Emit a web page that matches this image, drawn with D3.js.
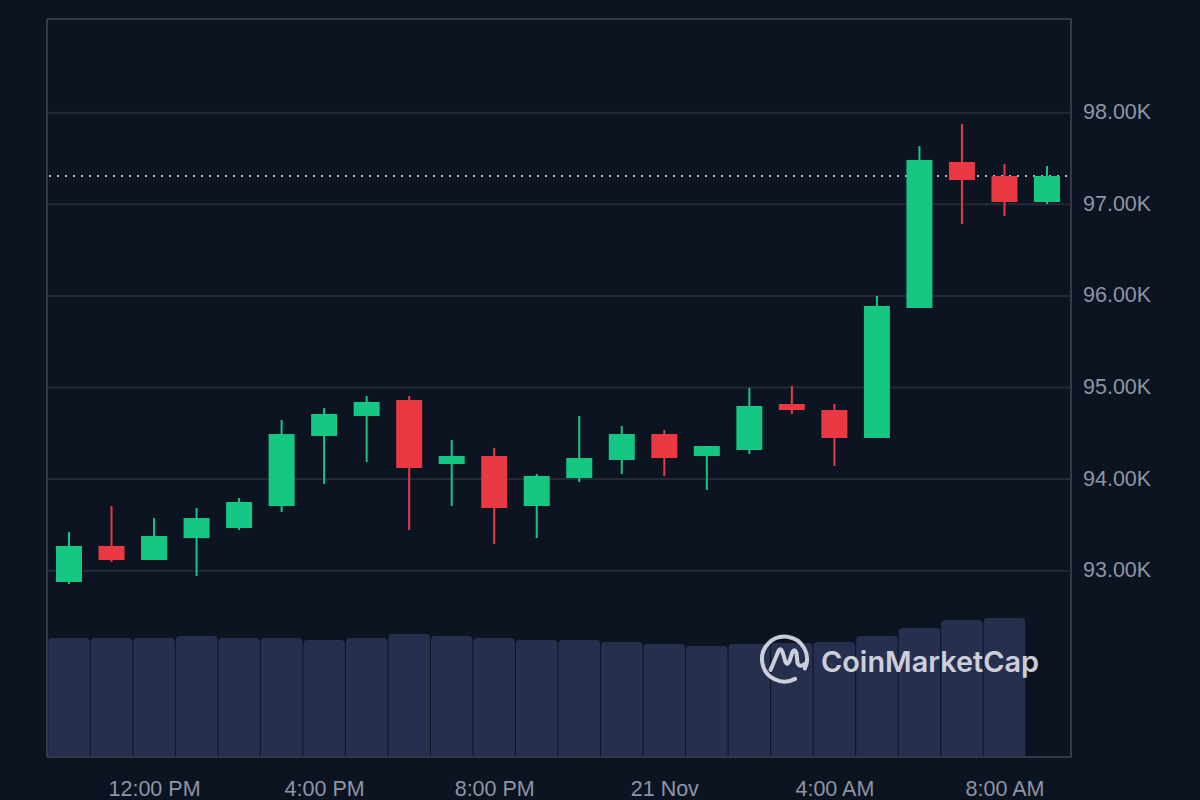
<!DOCTYPE html>
<html>
<head>
<meta charset="utf-8">
<script src="https://cdn.jsdelivr.net/npm/d3@7"></script>
<style>
  html, body { margin: 0; padding: 0; background: #0d1421; }
  svg { display: block; }
</style>
</head>
<body>
<svg id="chart" width="1200" height="800"></svg>
<script>
// ---- Data ----
const times = [
  "2024-11-20T10:00", "2024-11-20T11:00", "2024-11-20T12:00", "2024-11-20T13:00",
  "2024-11-20T14:00", "2024-11-20T15:00", "2024-11-20T16:00", "2024-11-20T17:00",
  "2024-11-20T18:00", "2024-11-20T19:00", "2024-11-20T20:00", "2024-11-20T21:00",
  "2024-11-20T22:00", "2024-11-20T23:00", "2024-11-21T00:00", "2024-11-21T01:00",
  "2024-11-21T02:00", "2024-11-21T03:00", "2024-11-21T04:00", "2024-11-21T05:00",
  "2024-11-21T06:00", "2024-11-21T07:00", "2024-11-21T08:00", "2024-11-21T09:00"
];
const open  = [92877, 93270, 93117, 93356, 93466, 93706, 94470, 94689, 94863, 94165, 94252, 93706,
               94012, 94209, 94492, 94252, 94318, 94820, 94754, 94449, 95868, 97462, 97309, 97025];
const high  = [93423, 93706, 93575, 93685, 93794, 94645, 94776, 94907, 94907, 94427, 94340, 94056,
               94689, 94580, 94536, 94361, 94995, 95017, 94820, 95999, 97636, 97877, 97440, 97418];
const low   = [92855, 93095, 93117, 92942, 93444, 93641, 93947, 94187, 93444, 93706, 93292, 93357,
               93968, 94056, 94034, 93881, 94274, 94711, 94143, 94449, 95868, 96785, 96872, 97003];
const close = [93270, 93117, 93379, 93575, 93750, 94492, 94711, 94842, 94121, 94252, 93684, 94034,
               94230, 94492, 94230, 94361, 94798, 94754, 94449, 95890, 97484, 97265, 97025, 97309];
// Volume (arbitrary units, $B), last hour has no bar yet
const volume = [2.36, 2.36, 2.36, 2.40, 2.36, 2.36, 2.32, 2.36, 2.44, 2.40, 2.36, 2.32,
                2.32, 2.28, 2.24, 2.20, 2.24, 2.26, 2.28, 2.40, 2.56, 2.72, 2.76];
const priceTicks = [93000, 94000, 95000, 96000, 97000, 98000];
const timeTicks = ["2024-11-20T12:00", "2024-11-20T16:00", "2024-11-20T20:00",
                   "2024-11-21T00:00", "2024-11-21T04:00", "2024-11-21T08:00"];

// ---- Setup ----
const parse = d3.timeParse("%Y-%m-%dT%H:%M");
const candles = times.map((t, i) => ({
  t: parse(t), o: open[i], h: high[i], l: low[i], c: close[i], v: volume[i]
}));

const frame = { left: 47, right: 1071, top: 19, bottom: 757 };
const svg = d3.select("#chart");

const x = d3.scaleTime()
  .domain([parse(times[0]), parse(times[times.length - 1])])
  .range([69, 1047]);
const step = x(parse(times[1])) - x(parse(times[0]));

const y = d3.scaleLinear().domain([93000, 98000]).range([570.7, 112.7]);
const yVol = d3.scaleLinear().domain([0, 2.76]).range([756, 618]);

const UP = "#16c784", DOWN = "#ea3943";
const GRID = "#242935", FRAME = "#333947", TEXT = "#8d95a7";

// background
svg.append("rect").attr("width", 1200).attr("height", 800).attr("fill", "#0d1421");

// gridlines
svg.append("g").selectAll("line").data(priceTicks).join("line")
  .attr("x1", frame.left).attr("x2", frame.right)
  .attr("y1", d => y(d)).attr("y2", d => y(d))
  .attr("stroke", GRID).attr("stroke-width", 2);

// volume bars (rounded top corners)
const r = 4;
svg.append("g").selectAll("path").data(candles.filter(d => d.v != null)).join("path")
  .attr("d", d => {
    const cx = x(d.t), x0 = cx - step / 2 + 0.5, x1 = cx + step / 2 - 0.5;
    const y0 = yVol(d.v), y1 = yVol(0);
    return `M${x0},${y1} L${x0},${y0 + r} Q${x0},${y0} ${x0 + r},${y0} L${x1 - r},${y0} Q${x1},${y0} ${x1},${y0 + r} L${x1},${y1} Z`;
  })
  .attr("fill", "#262f4e");

// frame
const fr = svg.append("g").attr("stroke", FRAME).attr("stroke-width", 2).attr("fill", "none");
fr.append("line").attr("x1", frame.left).attr("x2", frame.right).attr("y1", frame.top).attr("y2", frame.top);
fr.append("line").attr("x1", frame.left).attr("x2", frame.left).attr("y1", frame.top).attr("y2", frame.bottom);
fr.append("line").attr("x1", frame.right).attr("x2", frame.right).attr("y1", frame.top).attr("y2", frame.bottom);
fr.append("line").attr("x1", frame.left).attr("x2", frame.right).attr("y1", frame.bottom).attr("y2", frame.bottom);

// current price dotted line
const last = candles[candles.length - 1];
svg.append("line")
  .attr("x1", frame.left + 2).attr("x2", frame.right - 2)
  .attr("y1", y(last.c)).attr("y2", y(last.c))
  .attr("stroke", "#b3b9c6").attr("stroke-width", 2)
  .attr("stroke-dasharray", "2 6");

// candles
const bodyW = 26;
const cg = svg.append("g").selectAll("g").data(candles).join("g");
cg.append("line")
  .attr("x1", d => x(d.t)).attr("x2", d => x(d.t))
  .attr("y1", d => y(d.h)).attr("y2", d => y(d.l))
  .attr("stroke", d => d.c >= d.o ? UP : DOWN).attr("stroke-width", 2);
cg.append("rect")
  .attr("x", d => x(d.t) - bodyW / 2)
  .attr("width", bodyW)
  .attr("y", d => y(Math.max(d.o, d.c)))
  .attr("height", d => Math.max(2, Math.abs(y(d.o) - y(d.c))))
  .attr("fill", d => d.c >= d.o ? UP : DOWN);

// y axis (right)
const yAxis = d3.axisRight(y).tickValues(priceTicks).tickSize(0).tickPadding(0)
  .tickFormat(d => (d / 1000).toFixed(2) + "K");
const ya = svg.append("g").attr("transform", `translate(1083,0)`).call(yAxis);
ya.select(".domain").remove();
ya.selectAll("text").attr("fill", TEXT).attr("font-family", "'Liberation Sans', Arial, sans-serif")
  .attr("font-size", 21.5).attr("dy", "0.28em").attr("x", 0);

// x axis (bottom)
const fmt = d => (d.getHours() === 0 ? d3.timeFormat("%-d %b")(d) : d3.timeFormat("%-I:%M %p")(d));
const xAxis = d3.axisBottom(x).tickValues(timeTicks.map(parse)).tickSize(0).tickPadding(0).tickFormat(fmt);
const xa = svg.append("g").attr("transform", `translate(0,781)`).call(xAxis);
xa.select(".domain").remove();
xa.selectAll("text").attr("fill", TEXT).attr("font-family", "'Liberation Sans', Arial, sans-serif")
  .attr("font-size", 21.5).attr("dy", "0.35em").attr("y", 7);

// watermark
const wm = svg.append("g").attr("opacity", 0.88);
const lcx = 784.5, lcy = 659, lr = 22.5;
const a0 = 25 * Math.PI / 180, a1 = 62 * Math.PI / 180;
wm.append("path")
  .attr("d", `M${lcx + lr * Math.cos(a0)},${lcy + lr * Math.sin(a0)} A${lr},${lr} 0 1 0 ${lcx + lr * Math.cos(a1)},${lcy + lr * Math.sin(a1)}`)
  .attr("fill", "none").attr("stroke", "#e3e6ee").attr("stroke-width", 4).attr("stroke-linecap", "round");
wm.append("path")
  .attr("d", `M${lcx - 14},${lcy + 11} L${lcx - 6},${lcy - 8} Q${lcx - 4},${lcy - 12} ${lcx - 2},${lcy - 7} L${lcx + 1},${lcy + 3} Q${lcx + 3},${lcy + 7} ${lcx + 5},${lcy + 2} L${lcx + 8},${lcy - 7} Q${lcx + 10},${lcy - 11} ${lcx + 12},${lcy - 6} L${lcx + 13},${lcy + 4} Q${lcx + 15},${lcy + 9} ${lcx + 20},${lcy + 5}`)
  .attr("fill", "none").attr("stroke", "#e3e6ee").attr("stroke-width", 4)
  .attr("stroke-linecap", "round").attr("stroke-linejoin", "round");
wm.append("text")
  .attr("x", 821).attr("y", 672)
  .attr("fill", "#e3e6ee")
  .attr("font-family", "Inter, 'Open Sans', sans-serif")
  .attr("font-weight", 600).attr("font-size", 29)
  .attr("textLength", 218).attr("lengthAdjust", "spacingAndGlyphs")
  .text("CoinMarketCap");
</script>
</body>
</html>
